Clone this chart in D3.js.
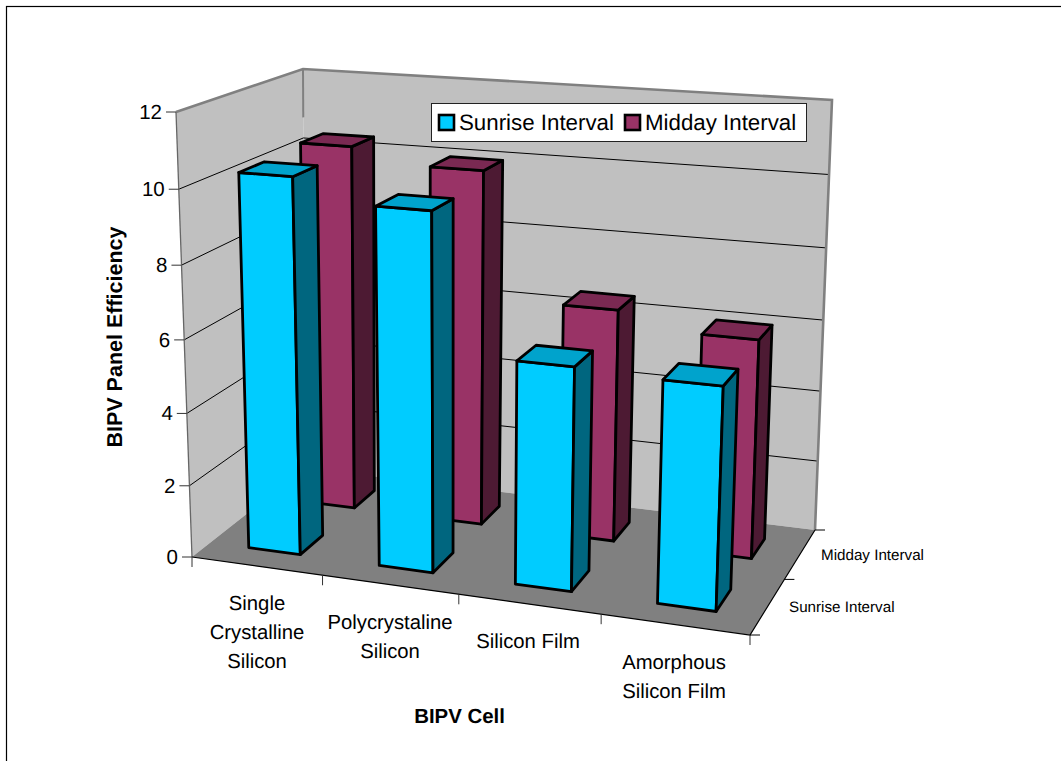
<!DOCTYPE html>
<html>
<head>
<meta charset="utf-8">
<script src="https://cdn.jsdelivr.net/npm/d3@7/dist/d3.min.js"></script>
<style>
html,body{margin:0;padding:0;background:#fff;overflow:hidden}
text{font-family:"Liberation Sans",Arial,sans-serif;fill:#000;text-rendering:geometricPrecision}
</style>
</head>
<body>
<svg id="chart" width="1061" height="761"></svg>
<script>
// Chart data
const categories = ["Single Crystalline Silicon", "Polycrystaline Silicon", "Silicon Film", "Amorphous Silicon Film"];
const seriesNames = ["Sunrise Interval", "Midday Interval"];
const sunriseValues = [10.3, 9.7, 6.0, 5.9];
const middayValues = [10.4, 10.0, 6.5, 6.05];
const valueTicks = [0, 2, 4, 6, 8, 10, 12];

const svg = d3.select("#chart");

// Perspective camera, solved from where the box corners land on the page.
const anchors = [
  [0,0,0,192,557],[1,0,0,750,635],[0,1,0,305,468],[1,1,0,815,530],
  [0,0,1,176,112],[0,1,1,303,69],[1,1,1,832,100]
];
function solveCamera(pts){
  const A=[],b=[];
  pts.forEach(([X,Y,Z,px,py])=>{
    const x=px/1000,y=py/1000;
    A.push([X,Y,Z,1,0,0,0,0,-x*X,-x*Y,-x*Z]);b.push(x);
    A.push([0,0,0,0,X,Y,Z,1,-y*X,-y*Y,-y*Z]);b.push(y);
  });
  const n=11,N=d3.range(n).map(i=>d3.range(n+1).map(j=>
    d3.sum(A,(r,k)=>r[i]*(j<n?r[j]:b[k]))));
  for(let i=0;i<n;i++){
    let p=i;for(let r=i+1;r<n;r++)if(Math.abs(N[r][i])>Math.abs(N[p][i]))p=r;
    [N[i],N[p]]=[N[p],N[i]];
    for(let r=0;r<n;r++){if(r===i)continue;const f=N[r][i]/N[i][i];
      for(let c=i;c<=n;c++)N[r][c]-=f*N[i][c];}
  }
  return d3.range(n).map(i=>N[i][n]/N[i][i]);
}
const m=solveCamera(anchors);
function camera(u,v,w){
  const d=m[8]*u+m[9]*v+m[10]*w+1;
  return [1000*(m[0]*u+m[1]*v+m[2]*w+m[3])/d,1000*(m[4]*u+m[5]*v+m[6]*w+m[7])/d];
}
// Leftover error at each corner, blended across the box so the corners land exactly.
const residuals=anchors.map(([X,Y,Z,px,py])=>{const q=camera(X,Y,Z);return [X,Y,Z,px-q[0],py-q[1]];});
function project(u,v,w){
  const q=camera(u,v,w);
  residuals.forEach(([X,Y,Z,dx,dy])=>{
    const k=(X?u:1-u)*(Y?v:1-v)*(Z?w:1-w);
    q[0]+=k*dx;q[1]+=k*dy;
  });
  return q;
}

// Scales along the three box directions
const xBand=d3.scaleBand().domain(categories).range([0,1]).paddingInner(0.6).paddingOuter(0.3);
const zBand=d3.scaleBand().domain(seriesNames).range([0,1]).paddingInner(0.6).paddingOuter(0.3);
const yScale=d3.scaleLinear().domain([0,12]).range([0,1]);

const poly=d3.line().curve(d3.curveLinearClosed);
const open=d3.line();

// Page frame
svg.append("rect").attr("x",6.5).attr("y",6.5).attr("width",1100).attr("height",800)
  .attr("fill","#fff").attr("stroke","#000").attr("stroke-width",1.2);

// Walls and floor
svg.append("path").attr("fill","#C0C0C0")
  .attr("d",poly([[0,0,0],[0,1,0],[0,1,1],[0,0,1]].map(p=>project(...p))));
svg.append("path").attr("fill","#C0C0C0")
  .attr("d",poly([[0,1,0],[1,1,0],[1,1,1],[0,1,1]].map(p=>project(...p))));
svg.append("path").attr("fill","#808080")
  .attr("d",poly([[0,0,0],[1,0,0],[1,1,0],[0,1,0]].map(p=>project(...p))));

// Value gridlines across both walls
svg.append("g").selectAll("path").data(valueTicks.filter(t=>t>0&&t<12)).join("path")
  .attr("fill","none").attr("stroke","#000").attr("stroke-width",1)
  .attr("d",t=>open([[0,0,yScale(t)],[0,1,yScale(t)],[1,1,yScale(t)]].map(p=>project(...p))));

// Wall outline
svg.append("path").attr("fill","none").attr("stroke","#808080").attr("stroke-width",2.6)
  .attr("d",open([[0,0,1],[0,1,1],[1,1,1],[1,1,0]].map(p=>project(...p))));
svg.append("path").attr("fill","none").attr("stroke","#808080").attr("stroke-width",2)
  .attr("d",open([[0,1,1],[0,1,yScale(10.6)]].map(p=>project(...p))));
svg.append("path").attr("fill","none").attr("stroke","#666").attr("stroke-width",1.3)
  .attr("d",open([[0,0,1],[0,0,0]].map(p=>project(...p))));

// Front and right floor edges
svg.append("path").attr("fill","none").attr("stroke","#000").attr("stroke-width",1.2)
  .attr("d",open([[0,0,0],[1,0,0],[1,1,0]].map(p=>project(...p))));

// Value axis ticks and labels
const ticks=svg.append("g");
valueTicks.forEach(t=>{
  const [x,y]=project(0,0,yScale(t));
  ticks.append("line").attr("x1",x-10).attr("x2",x).attr("y1",y).attr("y2",y)
    .attr("stroke","#333").attr("stroke-width",1);
  ticks.append("text").attr("x",x-14).attr("y",y+7).attr("text-anchor","end")
    .attr("font-size",20.5).text(t);
});

// Category ticks along the front floor edge
d3.range(categories.length+1).forEach(i=>{
  const u=i/categories.length,[x,y]=project(u,0,0);
  ticks.append("line").attr("x1",x).attr("x2",x).attr("y1",y).attr("y2",y+10)
    .attr("stroke","#333").attr("stroke-width",1);
});
// Series ticks along the right floor edge
d3.range(seriesNames.length+1).forEach(i=>{
  const [x,y]=project(1,i/seriesNames.length,0);
  ticks.append("line").attr("x1",x).attr("x2",x+10).attr("y1",y).attr("y2",y)
    .attr("stroke","#000").attr("stroke-width",1);
});

// Bars, back series first so the front series overlaps it
const palette={
  "Sunrise Interval":{front:"#00CCFF",side:"#00667F",top:"#00A3CC"},
  "Midday Interval":{front:"#993366",side:"#4D1A33",top:"#7A2952"}
};
const valuesBySeries={"Sunrise Interval":sunriseValues,"Midday Interval":middayValues};
const barLayer=svg.append("g");
seriesNames.slice().reverse().forEach(name=>{
  const v0=zBand(name),v1=v0+zBand.bandwidth(),c=palette[name];
  categories.forEach((cat,i)=>{
    const u0=xBand(cat),u1=u0+xBand.bandwidth(),w=yScale(valuesBySeries[name][i]);
    const faces=[
      {fill:c.front,pts:[[u0,v0,0],[u1,v0,0],[u1,v0,w],[u0,v0,w]]},
      {fill:c.side,pts:[[u1,v0,0],[u1,v1,0],[u1,v1,w],[u1,v0,w]]},
      {fill:c.top,pts:[[u0,v0,w],[u1,v0,w],[u1,v1,w],[u0,v1,w]]}
    ];
    barLayer.append("g").selectAll("path").data(faces).join("path")
      .attr("fill",f=>f.fill).attr("stroke","#000").attr("stroke-width",2.8)
      .attr("stroke-linejoin","round")
      .attr("d",f=>poly(f.pts.map(p=>project(...p))));
  });
});

// Category labels
const categoryLines=[["Single","Crystalline","Silicon"],["Polycrystaline","Silicon"],["Silicon Film"],["Amorphous","Silicon Film"]];
const categoryLabelX=[257,390,528,674];
const categoryLabelY=[610,629,648,669];
const labels=svg.append("g").attr("font-size",20.3).attr("text-anchor","middle");
categoryLines.forEach((lines,i)=>{
  lines.forEach((s,j)=>labels.append("text").attr("x",categoryLabelX[i])
    .attr("y",categoryLabelY[i]+j*29).text(s));
});

// Series labels on the depth axis
const depthLabels=[["Midday Interval",821,560],["Sunrise Interval",789,612]];
svg.append("g").attr("font-size",15.2).selectAll("text").data(depthLabels).join("text")
  .attr("x",d=>d[1]).attr("y",d=>d[2]).text(d=>d[0]);

// Axis titles
svg.append("text").attr("x",459.5).attr("y",723).attr("text-anchor","middle")
  .attr("font-size",20.4).attr("font-weight","bold").text("BIPV Cell");
svg.append("text").attr("transform","translate(122,337) rotate(-90)").attr("text-anchor","middle")
  .attr("font-size",21.5).attr("font-weight","bold").text("BIPV Panel Efficiency");

// Legend
const legend=svg.append("g");
legend.append("rect").attr("x",431.5).attr("y",103.5).attr("width",375).attr("height",38)
  .attr("fill","#fff").attr("stroke","#222").attr("stroke-width",1);
const legendX=[[438,459],[624,645]];
seriesNames.forEach((name,i)=>{
  legend.append("rect").attr("x",legendX[i][0]+1).attr("y",115).attr("width",15).attr("height",15)
    .attr("fill",palette[name].front).attr("stroke","#000").attr("stroke-width",2.6);
  legend.append("text").attr("x",legendX[i][1]).attr("y",130).attr("font-size",22.3).text(name);
});
</script>
</body>
</html>
